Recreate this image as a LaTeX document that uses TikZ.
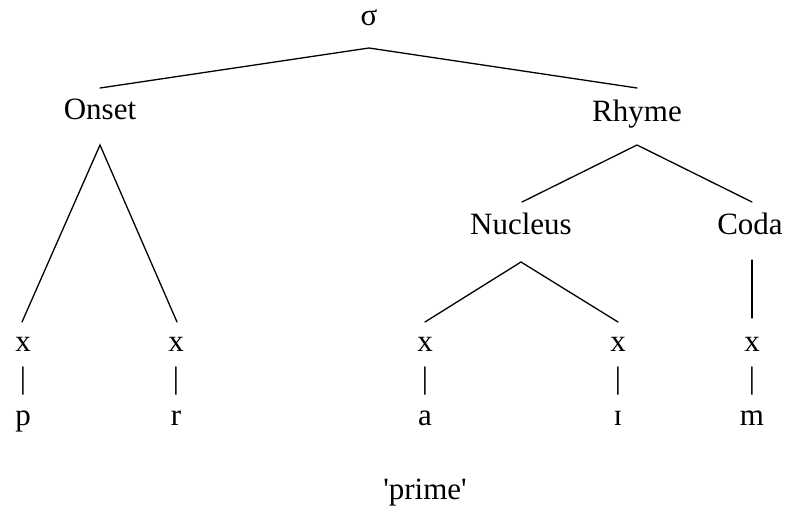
\documentclass[tikz,border=0pt]{standalone}
\usepackage{fontspec}
\setmainfont{Liberation Serif}
% straight single quotes: a face without TeX ligature mapping
\newfontfamily\glossfont{Liberation Serif}
\newcommand\straightq{{\glossfont\XeTeXglyph\XeTeXglyphindex "quotesingle" }}
\begin{document}
\begin{tikzpicture}[x=1pt,y=-1pt,
  lbl/.style={anchor=base,inner sep=0pt,font=\fontsize{31}{37}\selectfont},
  branch/.style={line width=1.3pt,line cap=round}]
\useasboundingbox (0,0) rectangle (789,511);
% labels
\node[lbl] (sigma) at (369,26) {σ};
\node[lbl] (onset) at (100,119) {Onset};
\node[lbl] (rhyme) at (637,121) {Rhyme};
\node[lbl] (nucleus) at (521,234) {Nucleus};
\node[lbl] (coda) at (750,234) {Coda};
% skeletal slots
\foreach \n/\xx in {x1/23,x2/176,x3/425,x4/618,x5/752}{
  \node[lbl] (\n) at (\xx,351) {x};
  \node[lbl] (\n bar) at (\xx,388) {|};
}
\node[lbl] (p) at (23,425) {p};
\node[lbl] (r) at (176,425) {r};
\node[lbl] (a) at (425,425) {a};
\node[lbl] (i) at (618,425) {ɪ};
\node[lbl] (m) at (752,425) {m};
\node[lbl] (gloss) at (425,499) {\straightq prime\straightq};
% branch points
\coordinate (sigma-b) at (369,48);
\coordinate (onset-t) at (100,88);
\coordinate (rhyme-t) at (637,88);
\coordinate (onset-b) at (100,145);
\coordinate (rhyme-b) at (637,145);
\coordinate (nucleus-t) at (522,202);
\coordinate (coda-t) at (752,202);
\coordinate (nucleus-b) at (521,262);
\coordinate (coda-b) at (752,260);
\coordinate (x1-t) at (22,322);
\coordinate (x2-t) at (177,322);
\coordinate (x3-t) at (425,322);
\coordinate (x4-t) at (618,322);
\coordinate (x5-t) at (752,318);
% branches
\draw[branch] (onset-t) -- (sigma-b) -- (rhyme-t);
\draw[branch] (x1-t) -- (onset-b) -- (x2-t);
\draw[branch] (nucleus-t) -- (rhyme-b) -- (coda-t);
\draw[branch] (x3-t) -- (nucleus-b) -- (x4-t);
\draw[branch] (coda-b) -- (x5-t);
\end{tikzpicture}
\end{document}
